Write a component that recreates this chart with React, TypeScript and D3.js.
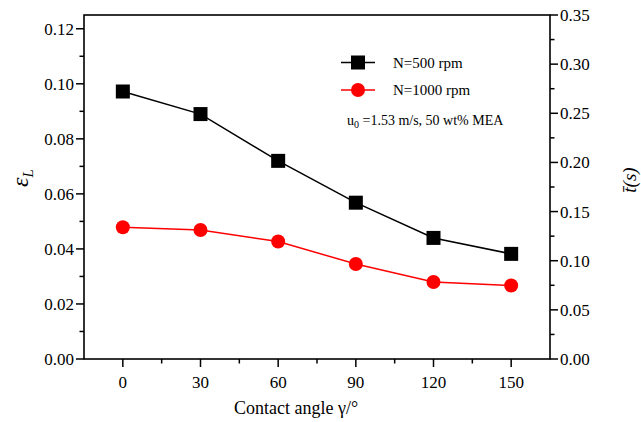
import React from "react";
import * as d3 from "d3";

const angles = [0, 30, 60, 90, 120, 150];
const eps500 = [0.0972, 0.089, 0.072, 0.0568, 0.044, 0.0382];
const eps1000 = [0.0479, 0.0469, 0.0427, 0.0345, 0.028, 0.0267];
const xTicks = [0, 30, 60, 90, 120, 150];
const yLeftTicks = [0, 0.02, 0.04, 0.06, 0.08, 0.1, 0.12];
const yRightTicks = [0, 0.05, 0.1, 0.15, 0.2, 0.25, 0.3, 0.35];
const legendLabels = ["N=500 rpm", "N=1000 rpm"];

const W = 641, H = 422;
const L = 84, R = 550, T = 15, B = 359;
const FONT = "Liberation Serif";
const ts = { fontFamily: FONT };

export default function App() {
  const x = d3.scaleLinear().domain([-15, 165]).range([L, R]);
  const yL = d3.scaleLinear().domain([0, 0.125]).range([B, T]);
  const yR = d3.scaleLinear().domain([0, 0.35]).range([B, T]);
  const line = d3.line<[number, number]>().x(d => x(d[0])).y(d => yL(d[1]));
  const d500 = angles.map((a, i) => [a, eps500[i]] as [number, number]);
  const d1000 = angles.map((a, i) => [a, eps1000[i]] as [number, number]);
  const xMinor = d3.range(-15, 166, 15).filter(v => !xTicks.includes(v) && v > -15 && v < 165);
  const yLMinor = d3.range(0.01, 0.125, 0.02);
  const yRMinor = d3.range(0.025, 0.35, 0.05);

  return (
    <svg width={W} height={H} style={{ position: "absolute", left: 0, top: 0, background: "#fff", fontFamily: FONT }}>
      <rect x={0} y={0} width={W} height={H} fill="#fff" />
      <rect x={L} y={T} width={R - L} height={B - T} fill="none" stroke="#000" strokeWidth={1.6} />
      {xTicks.map(t => (
        <g key={"xt" + t}>
          <line x1={x(t)} x2={x(t)} y1={B} y2={B + 8} stroke="#000" strokeWidth={1.5} />
          <text x={x(t)} y={388} fontSize={17} textAnchor="middle" style={ts}>{t}</text>
        </g>
      ))}
      {xMinor.map(t => (
        <line key={"xm" + t} x1={x(t)} x2={x(t)} y1={B} y2={B + 4.5} stroke="#000" strokeWidth={1.5} />
      ))}
      {yLeftTicks.map(t => (
        <g key={"yl" + t}>
          <line x1={L - 8} x2={L} y1={yL(t)} y2={yL(t)} stroke="#000" strokeWidth={1.5} />
          <text x={L - 10} y={yL(t) + 6} fontSize={17} textAnchor="end" style={ts}>{t.toFixed(2)}</text>
        </g>
      ))}
      {yLMinor.map(t => (
        <line key={"ylm" + t} x1={L - 4.5} x2={L} y1={yL(t)} y2={yL(t)} stroke="#000" strokeWidth={1.5} />
      ))}
      {yRightTicks.map(t => (
        <g key={"yr" + t}>
          <line x1={R} x2={R + 8} y1={yR(t)} y2={yR(t)} stroke="#000" strokeWidth={1.5} />
          <text x={R + 10} y={yR(t) + 6} fontSize={17} textAnchor="start" style={ts}>{t.toFixed(2)}</text>
        </g>
      ))}
      {yRMinor.map(t => (
        <line key={"yrm" + t} x1={R} x2={R + 4.5} y1={yR(t)} y2={yR(t)} stroke="#000" strokeWidth={1.5} />
      ))}
      <text x={234} y={414} fontSize={18} style={ts}>Contact angle γ/°</text>
      <text transform={`translate(28,${178}) rotate(-90)`} fontSize={24} fontStyle="italic" textAnchor="middle" style={ts}>
        ε<tspan fontSize={15} dy={5}>L</tspan>
      </text>
      <text transform={`translate(636,${180}) rotate(-90)`} fontSize={19} fontStyle="italic" textAnchor="middle" style={ts}>
        t̄(s)
      </text>
      <path d={line(d500) || ""} fill="none" stroke="#000" strokeWidth={1.5} />
      <path d={line(d1000) || ""} fill="none" stroke="#ff0000" strokeWidth={1.5} />
      {d500.map((d, i) => (
        <rect key={"s" + i} x={x(d[0]) - 7} y={yL(d[1]) - 7} width={14} height={14} fill="#000" />
      ))}
      {d1000.map((d, i) => (
        <circle key={"c" + i} cx={x(d[0])} cy={yL(d[1])} r={7} fill="#ff0000" />
      ))}
      <line x1={341} x2={375} y1={62.5} y2={62.5} stroke="#000" strokeWidth={1.5} />
      <rect x={351} y={55.5} width={14} height={14} fill="#000" />
      <text x={393} y={67.5} fontSize={15} style={ts}>{legendLabels[0]}</text>
      <line x1={341} x2={375} y1={90} y2={90} stroke="#ff0000" strokeWidth={1.5} />
      <circle cx={358} cy={90} r={7} fill="#ff0000" />
      <text x={393} y={95} fontSize={15} style={ts}>{legendLabels[1]}</text>
      <text x={347} y={125} fontSize={14} style={ts}>
        u<tspan fontSize={10} dy={3}>0</tspan><tspan dy={-3}> =1.53 m/s, 50 wt% MEA</tspan>
      </text>
    </svg>
  );
}
